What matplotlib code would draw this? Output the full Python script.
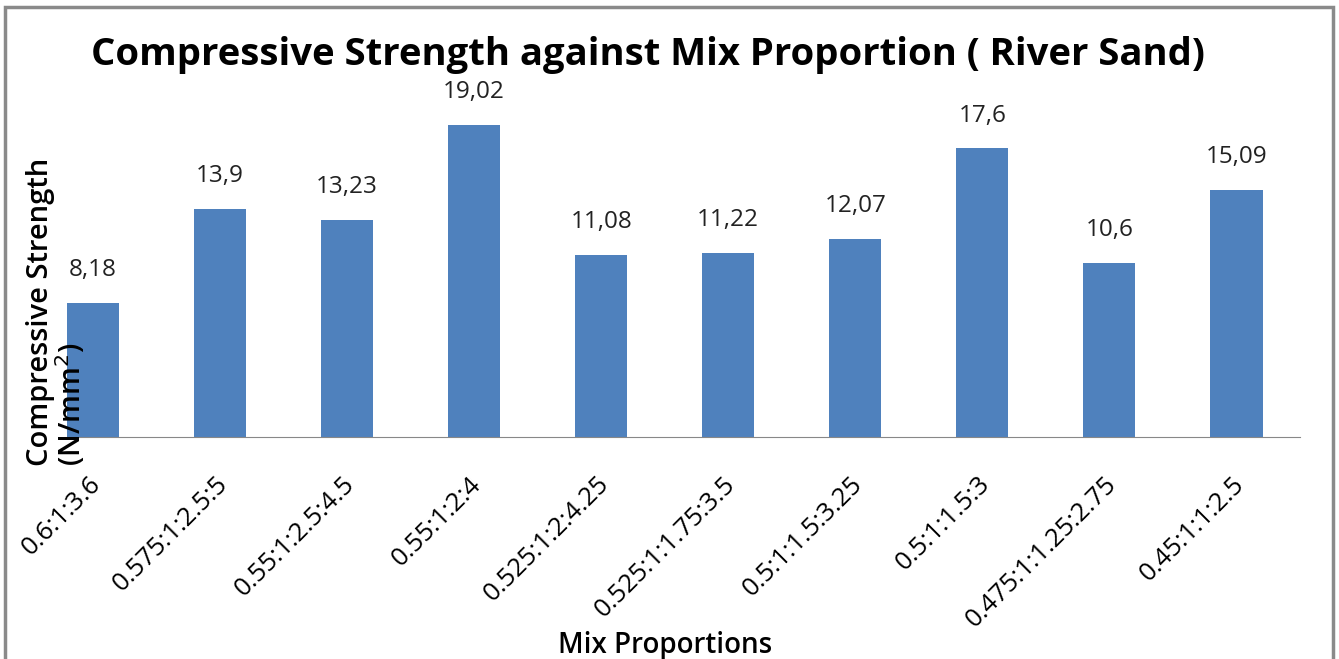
import matplotlib
matplotlib.use("Agg")
import matplotlib.pyplot as plt
import matplotlib.transforms as mtrans
from matplotlib.patches import Rectangle

categories = ["0.6:1:3.6", "0.575:1:2.5:5", "0.55:1:2.5:4.5", "0.55:1:2:4",
              "0.525:1:2:4.25", "0.525:1:1.75:3.5", "0.5:1:1.5:3.25",
              "0.5:1:1.5:3", "0.475:1:1.25:2.75", "0.45:1:1:2.5"]
values = [8.18, 13.9, 13.23, 19.02, 11.08, 11.22, 12.07, 17.6, 10.6, 15.09]
labels = ["8,18", "13,9", "13,23", "19,02", "11,08", "11,22", "12,07", "17,6", "10,6", "15,09"]

plt.rcParams['font.family'] = ['Open Sans', 'DejaVu Sans']

W, H = 1339, 659
fig = plt.figure(figsize=(W/100, H/100), dpi=100)
ax = fig.add_axes([29.5/W, 1-437/H, (1300-29.5)/W, (437-77)/H])
x = list(range(len(categories)))
ax.bar(x, values, width=0.41, color='#4F81BD')
ax.set_xlim(-0.5, len(categories)-0.5)
ax.set_ylim(0, 21.95)
for xi, v, lab in zip(x, values, labels):
    ax.annotate(lab, (xi, v), xytext=(0, 15), textcoords='offset points',
                ha='center', va='bottom', fontsize=17.5, color='#222222')
for s in ['top', 'right', 'left']:
    ax.spines[s].set_visible(False)
ax.spines['bottom'].set_color('#888888')
ax.spines['bottom'].set_bounds(-0.2, len(categories)-0.5)
ax.set_yticks([])
ax.set_xticks(x)
ax.set_xticklabels(categories, rotation=45, ha='right', rotation_mode='anchor', fontsize=18.5)
ax.tick_params(axis='x', length=0, pad=25)
offset = mtrans.ScaledTranslation(-5/100, 0, fig.dpi_scale_trans)
for t in ax.get_xticklabels():
    t.set_transform(t.get_transform() + offset)

fig.text(648/W, 1-55/H, "Compressive Strength against Mix Proportion ( River Sand)",
         ha='center', va='center', fontsize=27.5, fontweight='bold')
fig.text(57/W, 1-312/H, "Compressive Strength\n(N/mm$^2$)", rotation=90,
         ha='center', va='center', fontsize=21, multialignment='left',
         linespacing=1.0, fontweight='semibold')
fig.text(665/W, 1-646/H, "Mix Proportions", ha='center', va='center', fontsize=20,
         fontweight='semibold')

fig.patches.append(Rectangle((5/W, -0.1), (1333-5)/W, 1-7/H+0.1, transform=fig.transFigure,
                             fill=False, edgecolor='#8a8a8a', linewidth=2.5))
fig.savefig("out.png", dpi=100)
